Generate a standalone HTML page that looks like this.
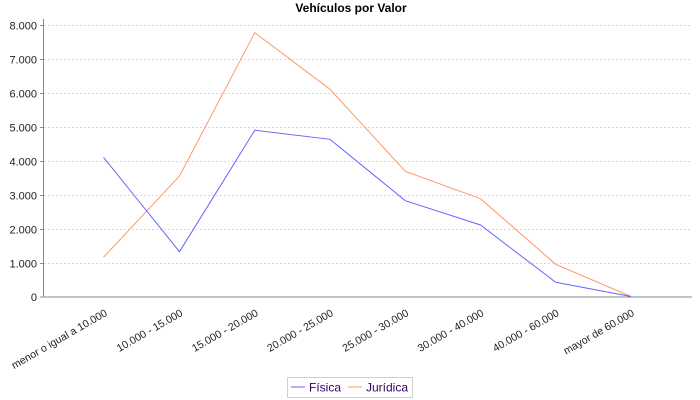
<!DOCTYPE html>
<html>
<head>
<meta charset="utf-8">
<style>
  html, body { margin: 0; padding: 0; background: #ffffff; }
  svg { display: block; }
  text { font-family: "Liberation Sans", "DejaVu Sans", sans-serif; }
</style>
</head>
<body>
<svg width="700" height="400" viewBox="0 0 700 400" xmlns="http://www.w3.org/2000/svg">
  <rect x="0" y="0" width="700" height="400" fill="#ffffff"/>
  <!-- Title -->
  <text x="351" y="12" text-anchor="middle" font-size="12" font-weight="bold" fill="#000">Vehículos por Valor</text>

  <!-- Grid lines -->
  <g stroke="#d8d8d8" stroke-width="1" stroke-dasharray="2,2">
    <line x1="44" y1="25.5" x2="692" y2="25.5"/>
    <line x1="44" y1="59.5" x2="692" y2="59.5"/>
    <line x1="44" y1="93.5" x2="692" y2="93.5"/>
    <line x1="44" y1="127.5" x2="692" y2="127.5"/>
    <line x1="44" y1="161.5" x2="692" y2="161.5"/>
    <line x1="44" y1="195.5" x2="692" y2="195.5"/>
    <line x1="44" y1="229.5" x2="692" y2="229.5"/>
    <line x1="44" y1="263.5" x2="692" y2="263.5"/>
  </g>

  <!-- Axes -->
  <g stroke="#888888" stroke-width="1">
    <line x1="43.5" y1="19" x2="43.5" y2="297"/>
    <line x1="43" y1="297" x2="692" y2="297"/>
    <line x1="40" y1="25.5" x2="43.5" y2="25.5"/>
    <line x1="40" y1="59.5" x2="43.5" y2="59.5"/>
    <line x1="40" y1="93.5" x2="43.5" y2="93.5"/>
    <line x1="40" y1="127.5" x2="43.5" y2="127.5"/>
    <line x1="40" y1="161.5" x2="43.5" y2="161.5"/>
    <line x1="40" y1="195.5" x2="43.5" y2="195.5"/>
    <line x1="40" y1="229.5" x2="43.5" y2="229.5"/>
    <line x1="40" y1="263.5" x2="43.5" y2="263.5"/>
    <line x1="40" y1="297" x2="43.5" y2="297"/>
  </g>

  <!-- Y tick labels -->
  <g font-size="11" fill="#222" text-anchor="end">
    <text x="37" y="29.5">8.000</text>
    <text x="37" y="63.5">7.000</text>
    <text x="37" y="97.5">6.000</text>
    <text x="37" y="131.5">5.000</text>
    <text x="37" y="165.5">4.000</text>
    <text x="37" y="199.5">3.000</text>
    <text x="37" y="233.5">2.000</text>
    <text x="37" y="267.5">1.000</text>
    <text x="37" y="301">0</text>
  </g>

  <!-- X category labels rotated -->
  <g font-size="10.6" fill="#222" text-anchor="end">
    <text transform="translate(108,315) rotate(-30)">menor o igual a 10.000</text>
    <text transform="translate(183.5,315) rotate(-30)">10.000 - 15.000</text>
    <text transform="translate(258.8,315) rotate(-30)">15.000 - 20.000</text>
    <text transform="translate(334,315) rotate(-30)">20.000 - 25.000</text>
    <text transform="translate(409.3,315) rotate(-30)">25.000 - 30.000</text>
    <text transform="translate(484.5,315) rotate(-30)">30.000 - 40.000</text>
    <text transform="translate(559.7,315) rotate(-30)">40.000 - 60.000</text>
    <text transform="translate(635,315) rotate(-30)">mayor de 60.000</text>
  </g>

  <!-- Series -->
  <polyline fill="none" stroke="#ff9966" stroke-width="1"
    points="103.5,257.3 179.5,176 254.8,32.7 330,89.3 405.3,171.3 480.5,198.7 555.7,264.3 631,296.5"/>
  <polyline fill="none" stroke="#6666ff" stroke-width="1"
    points="103.5,157.3 179.5,251.7 254.8,130.3 330,139.3 405.3,200.7 480.5,225 555.7,282.3 631,296.5"/>

  <!-- Legend -->
  <rect x="287.5" y="377.5" width="125" height="20" fill="#ffffff" stroke="#d0d0d0" stroke-width="1"/>
  <line x1="291" y1="387" x2="305" y2="387" stroke="#6666ff" stroke-width="1"/>
  <text x="309" y="391.5" font-size="12" fill="#330066">Física</text>
  <line x1="348" y1="387" x2="362" y2="387" stroke="#ff9966" stroke-width="1"/>
  <text x="366" y="391.5" font-size="12" fill="#330066">Jurídica</text>
</svg>
</body>
</html>
